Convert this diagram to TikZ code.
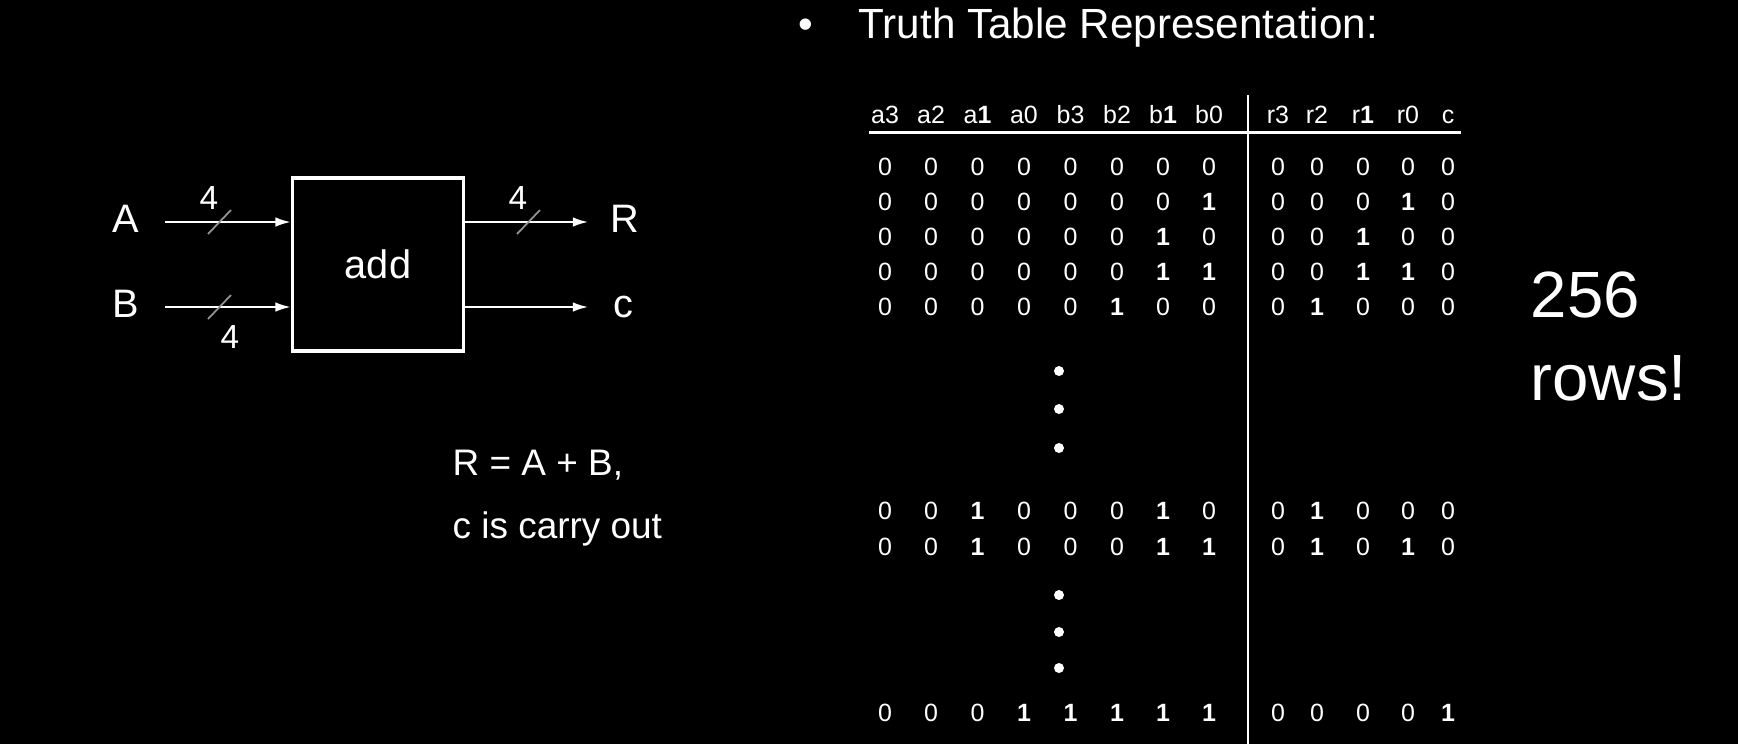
\documentclass[tikz,border=0pt]{standalone}
\usepackage{fontspec}
\setmainfont{Liberation Sans}
\usetikzlibrary{arrows.meta}

\tikzset{
        sig/.style={draw=white, line width=0.5pt, -{Latex[length=4.3pt,width=2.7pt]}},
        busmark/.style={draw=gray!85, line width=0.5pt},
        lbl/.style={text=white, inner sep=0pt, font=\fontsize{11.3}{13}\selectfont},
        wid/.style={text=white, inner sep=0pt, font=\fontsize{9.5}{11}\selectfont},
        bit/.style={text=white, inner sep=0pt, font=\fontsize{7.1}{8}\selectfont},
        rule/.style={draw=white, line width=0.6pt},
        dot/.style={fill=white, draw=none}
}
\newcommand\tbit[1]{\ifnum#1=1 \textbf{1}\else 0\fi}

\begin{document}
\begin{tikzpicture}[x=0.01cm, y=-0.01cm]
        \fill[black] (0,0) rectangle (1738,744);
        \useasboundingbox (0,0) rectangle (1738,744);

        \node[rectangle, draw=white, line width=0.9pt, minimum width=1.715cm, minimum height=1.73cm,
              lbl, inner sep=0pt] (add) at (378,264.5) {add};
        \node[lbl, anchor=base] (A) at (125.5,232) {A};
        \node[lbl, anchor=base] (B) at (125.5,317) {B};
        \node[lbl, anchor=base] (R) at (624.5,232) {R};
        \node[lbl, anchor=base] (c) at (623,317) {c};
        \coordinate (ain) at (165,222);
        \coordinate (bin) at (165,307);
        \coordinate (rout) at (588,222);
        \coordinate (cout) at (588,307);
        \draw[sig] (ain) -- (ain -| add.west);
        \draw[sig] (bin) -- (bin -| add.west);
        \draw[sig] (add.east |- rout) -- (rout);
        \draw[sig] (add.east |- cout) -- (cout);
        \foreach \p in {(219.5,222),(219.5,307),(528.5,222)}
                \draw[busmark] \p ++(-11.5,12) -- ++(23,-24);
        \node[wid] (wa) at (209,198) {4};
        \node[wid] (wb) at (230,336.5) {4};
        \node[wid] (wr) at (518,198) {4};

        \node[lbl, font=\fontsize{10.5}{12}\selectfont, anchor=base west] (sum) at (452,475) {R = A + B,};
        \node[lbl, font=\fontsize{10.5}{12}\selectfont, anchor=base west] (carry) at (452,538) {c is carry out};

        \node[lbl, font=\fontsize{11.9}{14}\selectfont, anchor=base] (bullet) at (806,38) {\textbullet};
        \node[lbl, font=\fontsize{12}{14}\selectfont, anchor=base west] (title) at (858,38) {Truth Table Representation:};

        \foreach \h [count=\i] in {a3,a2,a\textbf{1},a0,b3,b2,b\textbf{1},b0,r3,r2,r\textbf{1},r0,c}{
                \pgfmathsetmacro\cx{{885,931,977.5,1024,1070.5,1117,1163,1209,1278,1317,1363,1408,1448}[\i-1]}
                \node[bit, anchor=base] (h\i) at (\cx,123) {\h};
        }
        \draw[rule] (868.5,132.5) -- (1461,132.5);
        \draw[rule] (1248,95) -- (1248,744);

        \foreach \ry/\bits [count=\r] in {
                167/{0,0,0,0,0,0,0,0,0,0,0,0,0},
                202/{0,0,0,0,0,0,0,1,0,0,0,1,0},
                237/{0,0,0,0,0,0,1,0,0,0,1,0,0},
                272/{0,0,0,0,0,0,1,1,0,0,1,1,0},
                307/{0,0,0,0,0,1,0,0,0,1,0,0,0},
                511/{0,0,1,0,0,0,1,0,0,1,0,0,0},
                547/{0,0,1,0,0,0,1,1,0,1,0,1,0},
                713/{0,0,0,1,1,1,1,1,0,0,0,0,1}}{
                \foreach \b [count=\i] in \bits{
                        \pgfmathsetmacro\cx{{885,931,977.5,1024,1070.5,1117,1163,1209,1278,1317,1363,1408,1448}[\i-1]}
                        \node[bit] (d\r-\i) at (\cx,\ry) {\tbit{\b}};
                }
        }
        \foreach \dy in {371,409,448,595,632,668}
                \fill[dot] (1059,\dy) circle (0.05cm);

        \node[lbl, font=\fontsize{18.6}{22}\selectfont, anchor=base west] (count) at (1530,317) {256};
        \node[lbl, font=\fontsize{18.6}{22}\selectfont, anchor=base west] (rows) at (1530,400) {rows!};
\end{tikzpicture}
\end{document}
